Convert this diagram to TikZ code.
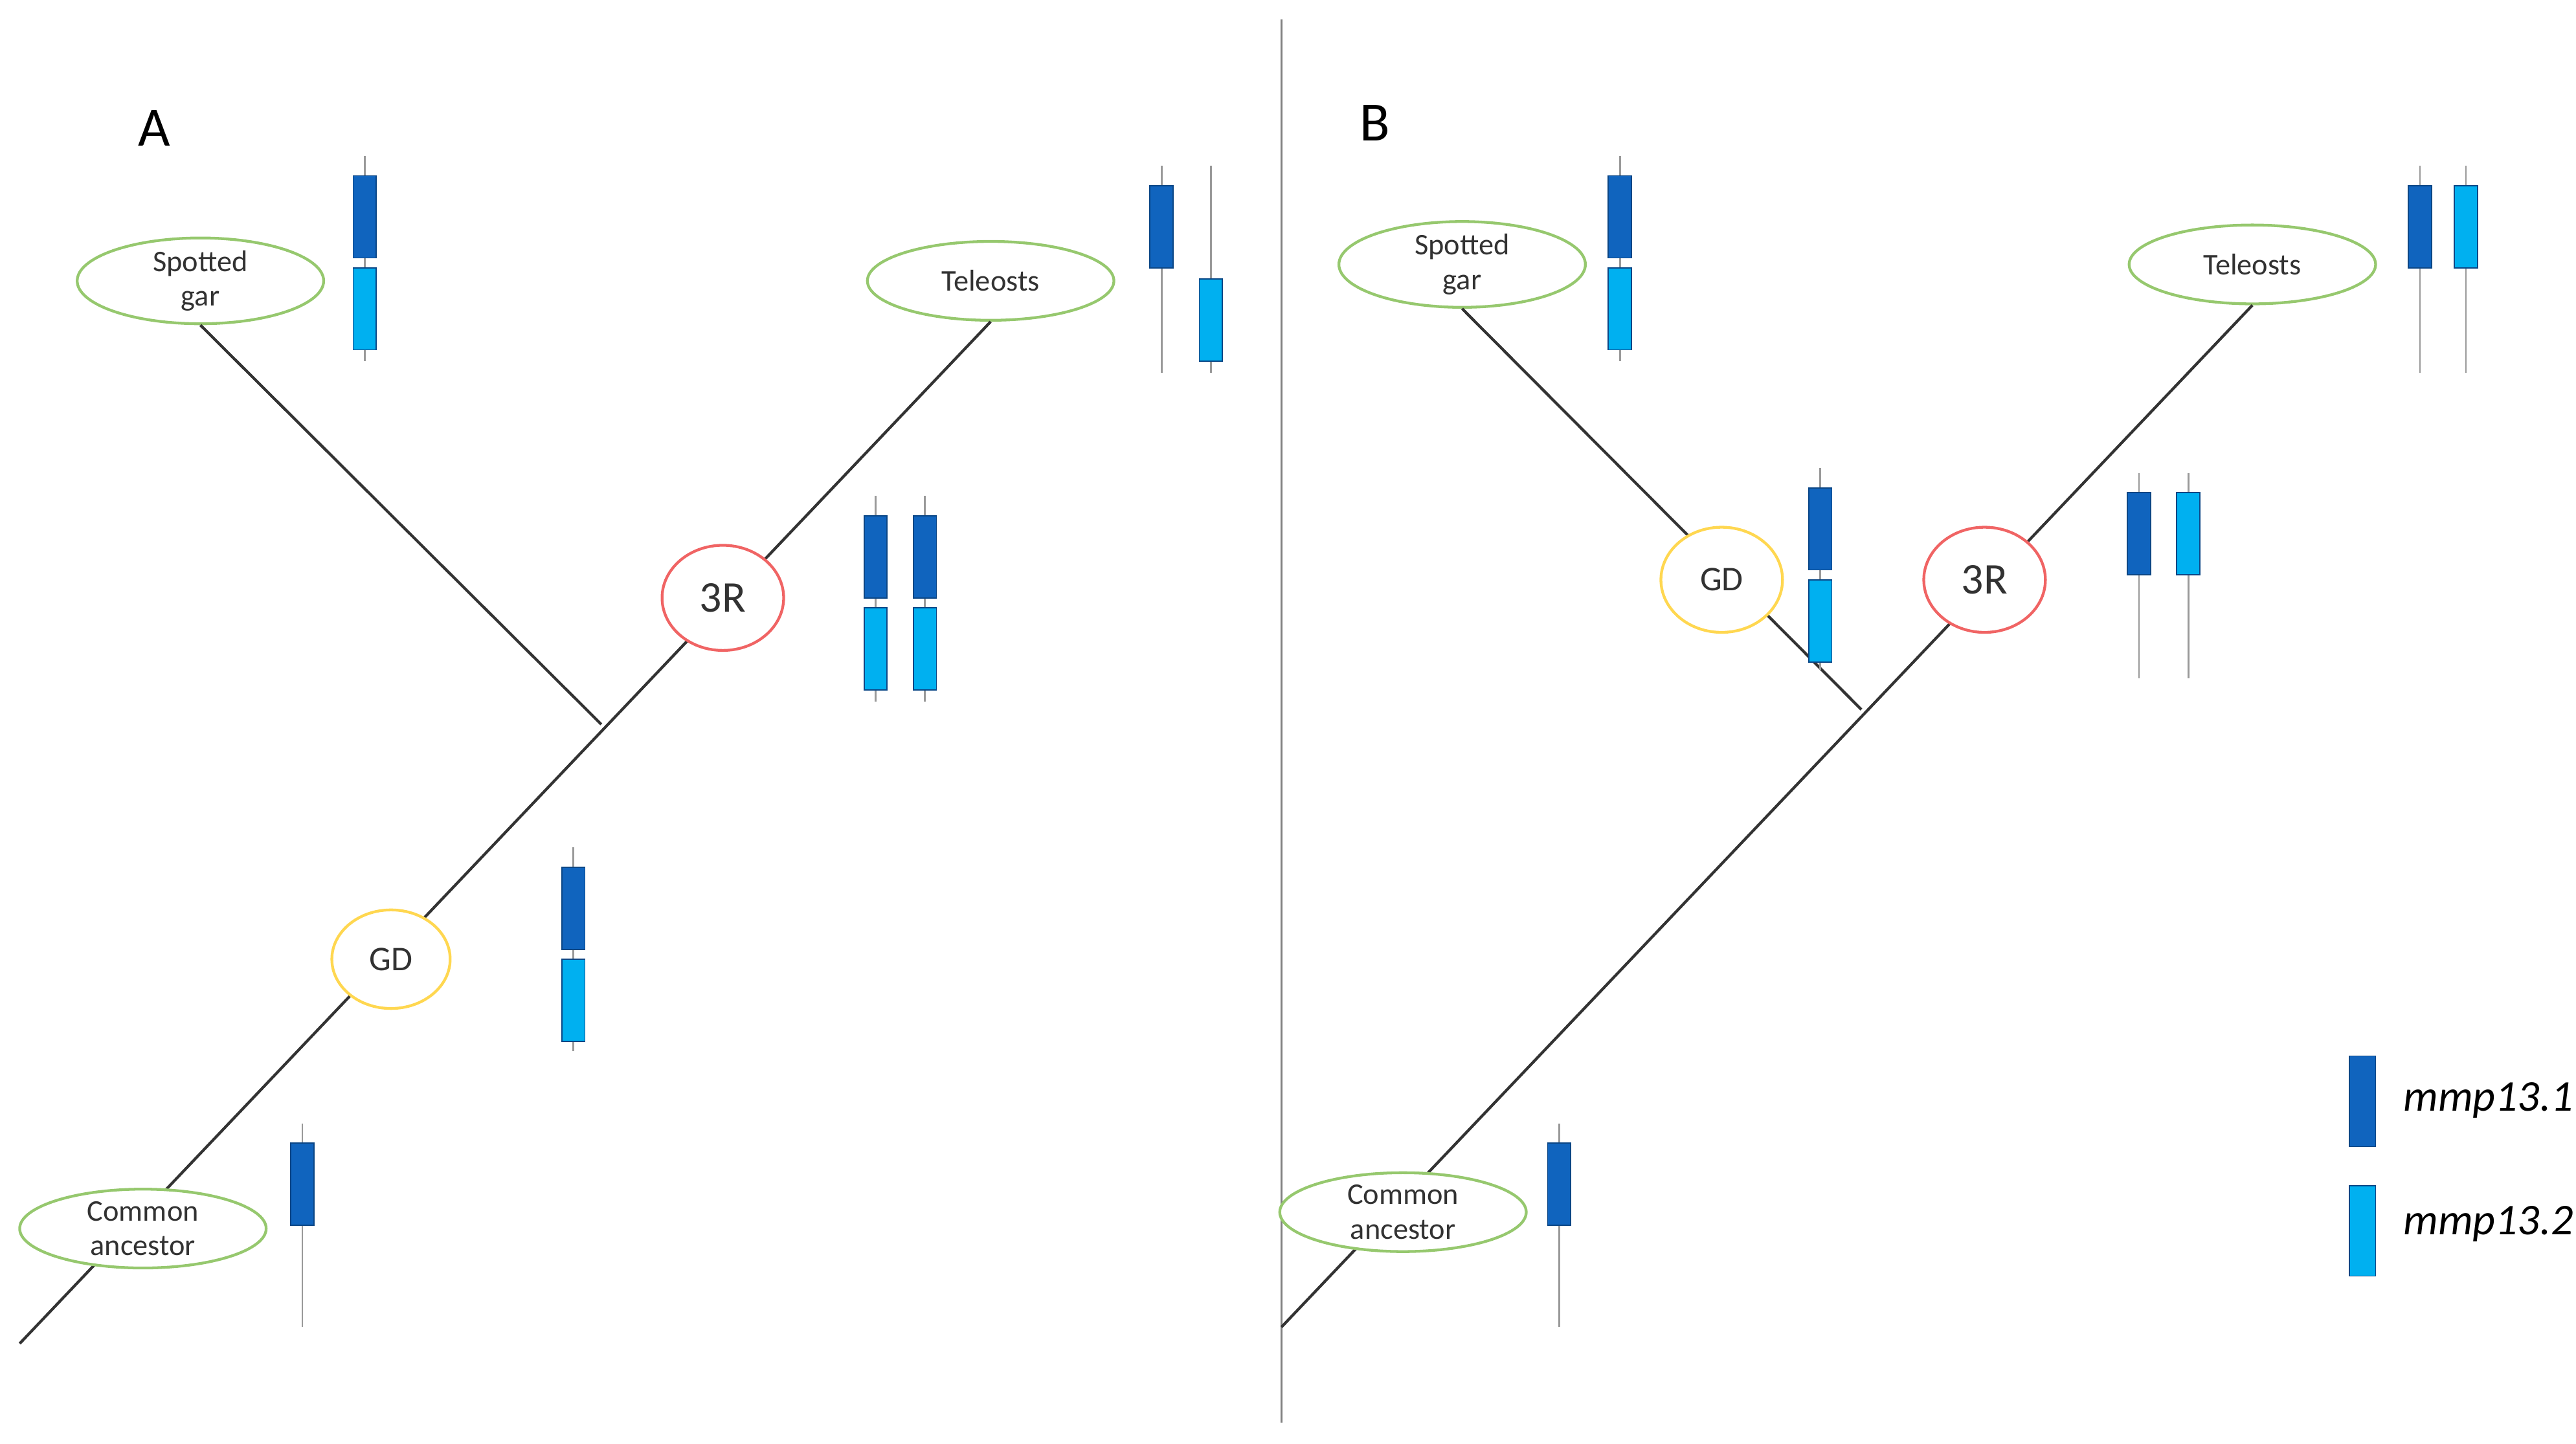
\documentclass[tikz,border=0pt]{standalone}
\usepackage{fontspec}
\setmainfont{Carlito}
\usetikzlibrary{shapes.geometric}
\definecolor{dk}{RGB}{16,100,190}
\definecolor{lt}{RGB}{0,176,240}
\definecolor{gr}{RGB}{150,200,110}
\definecolor{rd}{RGB}{240,100,100}
\definecolor{yl}{RGB}{255,215,80}
\definecolor{tx}{RGB}{50,50,50}
\newcommand\stk[3]{\draw[gray!80,line width=0.8pt] (#1,#2) -- (#1,#3);}
\newcommand\gbx[3]{\draw[fill=#3,draw=dk!70!black,line width=0.5pt] (#1-7,#2) rectangle (#1+7,#2+50);}
\begin{document}
\begin{tikzpicture}[x=0.025cm,y=-0.025cm,
  taxon/.style={ellipse,draw=gr,line width=1.2pt,fill=white,minimum width=3.75cm,minimum height=1.2cm,inner sep=0pt,align=center,font=\fontsize{13}{15}\selectfont,text=tx},
  ev/.style={ellipse,line width=1.2pt,fill=white,minimum width=1.85cm,minimum height=1.6cm,inner sep=0pt,text=tx},
  br/.style={line width=1.2pt,draw=black!80}]
\useasboundingbox (0,0) rectangle (1568,879);
\draw[gray,line width=1pt] (780,12) -- (780,866);
% Panel A
\node[font=\fontsize{24}{28}\selectfont] (la) at (94,78) {A};
\coordinate (a0) at (12,818);
\coordinate (aj) at (366,441);
\node[taxon] (agar) at (122,171) {Spotted\\gar};
\node[taxon] (atel) at (603,171) {Teleosts};
\draw[br] (a0) -- (atel.south);
\draw[br] (agar.south) -- (aj);
\node[ev,draw=rd,font=\fontsize{19}{22}\selectfont] (a3r) at (440,364) {3R};
\node[ev,draw=yl,minimum width=1.8cm,minimum height=1.5cm,font=\fontsize{15}{18}\selectfont] (agd) at (238,584) {GD};
\node[taxon] (aca) at (87,748) {Common\\ancestor};
\stk{222}{95}{220}\gbx{222}{107}{dk}\gbx{222}{163}{lt}
\stk{707}{101}{227}\gbx{707}{113}{dk}
\stk{737}{101}{227}\gbx{737}{170}{lt}
\stk{533}{302}{427}\gbx{533}{314}{dk}\gbx{533}{370}{lt}
\stk{563}{302}{427}\gbx{563}{314}{dk}\gbx{563}{370}{lt}
\stk{349}{516}{640}\gbx{349}{528}{dk}\gbx{349}{584}{lt}
\stk{184}{684}{808}\gbx{184}{696}{dk}
% Panel B
\node[font=\fontsize{24}{28}\selectfont] (lb) at (837,75) {B};
\coordinate (b0) at (780,808);
\coordinate (bj) at (1133,432);
\node[taxon] (bgar) at (890,161) {Spotted\\gar};
\node[taxon] (btel) at (1371,161) {Teleosts};
\draw[br] (b0) -- (btel.south);
\draw[br] (bgar.south) -- (bj);
\node[ev,draw=rd,font=\fontsize{19}{22}\selectfont] (b3r) at (1208,353) {3R};
\node[ev,draw=yl,font=\fontsize{15}{18}\selectfont] (bgd) at (1048,353) {GD};
\node[taxon] (bca) at (854,738) {Common\\ancestor};
\stk{986}{95}{220}\gbx{986}{107}{dk}\gbx{986}{163}{lt}
\stk{1473}{101}{227}\gbx{1473}{113}{dk}
\stk{1501}{101}{227}\gbx{1501}{113}{lt}
\stk{1302}{288}{413}\gbx{1302}{300}{dk}
\stk{1332}{288}{413}\gbx{1332}{300}{lt}
\stk{1108}{285}{408}\gbx{1108}{297}{dk}\gbx{1108}{353}{lt}
\stk{949}{684}{808}\gbx{949}{696}{dk}
% Legend
\draw[fill=dk,draw=dk!70!black] (1430,643) rectangle (1446,698);
\draw[fill=lt,draw=dk!70!black] (1430,722) rectangle (1446,777);
\node[anchor=west,font=\fontsize{19}{22}\selectfont\itshape] (l1) at (1458,670) {mmp13.1};
\node[anchor=west,font=\fontsize{19}{22}\selectfont\itshape] (l2) at (1458,745) {mmp13.2};
\end{tikzpicture}
\end{document}
